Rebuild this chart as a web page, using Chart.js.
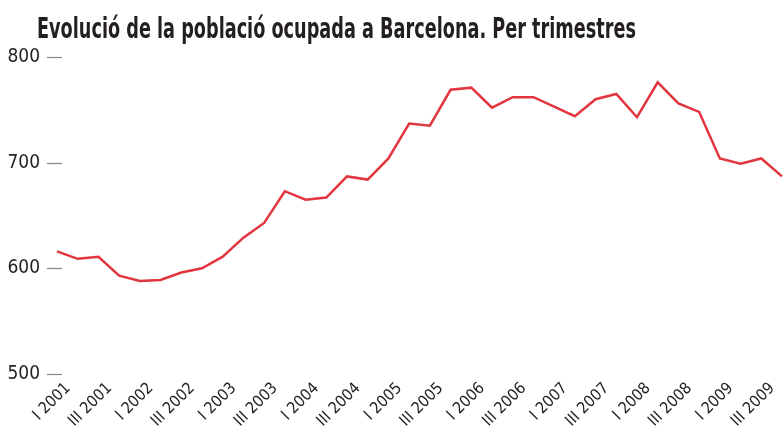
<!DOCTYPE html>
<html><head><meta charset="utf-8">
<style>html,body{margin:0;padding:0;background:#fff}#wrap{width:784px;height:432px}</style>
<script src="https://cdn.jsdelivr.net/npm/chart.js@4"></script>
</head><body><div id="wrap"><canvas id="c" width="784" height="432"></canvas></div>
<script>
const titleText = "Evolució de la població ocupada a Barcelona. Per trimestres";
const years = [2001,2002,2003,2004,2005,2006,2007,2008,2009];
const quarters = ["I","II","III","IV"];
const categories = [];
years.forEach(y => quarters.forEach(q => categories.push(q + " " + y)));
const employed = [616,609,611,593,588,589,596,600,611,629,643,673,665,667,687,684,
  704,737,735,769,771,752,762,762,753,744,760,765,743,776,756,748,704,699,704,687];
const yTicks = [500,600,700,800];

const FONT = "'DejaVu Sans Condensed','Liberation Sans Narrow',sans-serif";

const decor = {
  id:'decor',
  afterDraw(chart){
    const ctx = chart.ctx, ys = chart.scales.y, left = chart.chartArea.left;
    ctx.save();
    ctx.strokeStyle = '#8a8a8a'; ctx.lineWidth = 1.3;
    yTicks.forEach(v => {
      const py = Math.round(ys.getPixelForValue(v)) + 0.5;
      ctx.beginPath(); ctx.moveTo(left - 10, py); ctx.lineTo(left + 5, py); ctx.stroke();
    });
    ctx.restore();
    ctx.save();
    ctx.fillStyle = '#231f20';
    ctx.font = "bold 28px " + FONT;
    const w = ctx.measureText(titleText).width;
    const sx = Math.min(1, 599 / w);
    ctx.translate(37, 38);
    ctx.scale(sx, 1);
    ctx.textBaseline = 'alphabetic';
    ctx.fillText(titleText, 0, 0);
    ctx.restore();
  }
};

new Chart(document.getElementById('c'), {
  type:'line',
  data:{labels:categories, datasets:[{data:employed, borderColor:'#e2363f', borderWidth:2.5,
    pointRadius:0, tension:0, fill:false, clip:false}]},
  options:{
    responsive:false, animation:false,
    layout:{padding:{top:57, right:2, left:0, bottom:0}},
    plugins:{legend:{display:false}, tooltip:{enabled:false}, title:{display:false}},
    scales:{
      x:{
        grid:{display:false, drawTicks:false}, border:{display:false},
        ticks:{autoSkip:false, maxRotation:45, minRotation:45, padding:5, labelOffset:11,
          color:'#231f20', font:{family:FONT, size:16},
          callback:(v,i)=> i%2===0 ? categories[i] : ''},
        afterFit(s){ s.height = 58; s.paddingRight = 0; s.paddingLeft = 0; }
      },
      y:{
        min:500, max:800,
        grid:{display:false, drawTicks:false}, border:{display:false},
        ticks:{stepSize:100, padding:17, color:'#231f20', font:{family:FONT, size:19}},
        afterBuildTicks(s){ s.ticks = yTicks.map(v=>({value:v})); },
        afterFit(s){ s.width = 57; s.paddingTop = 0; s.paddingBottom = 0; }
      }
    }
  },
  plugins:[decor]
});
</script></body></html>
